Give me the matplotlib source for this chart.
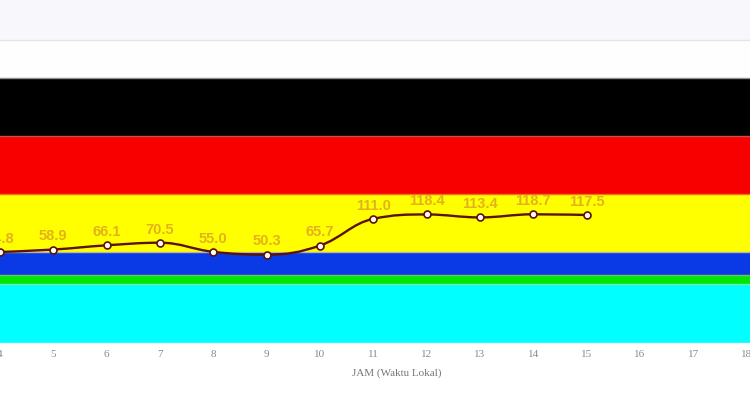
import matplotlib
matplotlib.use('Agg')
import matplotlib.pyplot as plt
from matplotlib.path import Path
from matplotlib.patches import PathPatch

# hourly PM2.5 values
hours = [4, 5, 6, 7, 8, 9, 10, 11, 12, 13, 14, 15]
pm25 = [54.8, 58.9, 66.1, 70.5, 55.0, 50.3, 65.7, 111.0, 118.4, 113.4, 118.7, 117.5]
tick_hours = list(range(4, 19))

# colour bands behind the line (bottom to top)
band_edges = [-100, 0, 15.5, 55.5, 152.5, 251.5, 350, 415, 482]
band_colors = ['#00ffff', '#00e600', '#0a3ae6', '#ffff00', '#f80000', '#000000', '#fefefe', '#f7f7fc']
edge_colors = ['#a0ffff', '#70f0b0', '#70c070', '#b8b8a0', '#f07020', '#c85050', '#909090', '#e4e4ea']


def spline_path(xs, ys, smoothing=1.5):
    # same control point rule as a highcharts "spline" series
    n = len(xs)
    left = [None] * n
    right = [None] * n
    denom = smoothing + 1
    for i in range(1, n - 1):
        px, py = xs[i], ys[i]
        lx, ly = xs[i - 1], ys[i - 1]
        nx, ny = xs[i + 1], ys[i + 1]
        lcx = (smoothing * px + lx) / denom
        lcy = (smoothing * py + ly) / denom
        rcx = (smoothing * px + nx) / denom
        rcy = (smoothing * py + ny) / denom
        if rcx != lcx:
            corr = (rcy - lcy) * (rcx - px) / (rcx - lcx) + py - rcy
            lcy += corr
            rcy += corr
        if lcy > ly and lcy > py:
            lcy = max(ly, py)
            rcy = 2 * py - lcy
        elif lcy < ly and lcy < py:
            lcy = min(ly, py)
            rcy = 2 * py - lcy
        if rcy > ny and rcy > py:
            rcy = max(ny, py)
            lcy = 2 * py - rcy
        elif rcy < ny and rcy < py:
            rcy = min(ny, py)
            lcy = 2 * py - rcy
        left[i] = (lcx, lcy)
        right[i] = (rcx, rcy)

    verts = [(xs[0], ys[0])]
    codes = [Path.MOVETO]
    for i in range(1, n):
        r = right[i - 1] or (xs[i - 1], ys[i - 1])
        l = left[i] or (xs[i], ys[i])
        verts += [r, l, (xs[i], ys[i])]
        codes += [Path.CURVE4] * 3
    return Path(verts, codes)


fig = plt.figure(figsize=(7.5, 4), dpi=100)
fig.patch.set_facecolor('white')
ax = fig.add_axes([0, 0.1418, 1, 0.8582])

for i in range(len(band_colors)):
    ax.axhspan(band_edges[i], band_edges[i + 1], color=band_colors[i], lw=0, zorder=0)
for i in range(len(edge_colors)):
    ax.axhline(band_edges[i], color=edge_colors[i], lw=1.0, zorder=1)

line_color = '#5c1206'
ax.add_patch(PathPatch(spline_path(hours, pm25), facecolor='none',
                       edgecolor=line_color, lw=1.7, zorder=3))
ax.plot(hours, pm25, ls='none', marker='o', ms=5, mfc='white', mec=line_color,
        mew=1.2, zorder=4)

for h, v in zip(hours, pm25):
    ax.annotate('%.1f' % v, (h, v), xytext=(0, 9.5), textcoords='offset points',
                ha='center', va='center', fontsize=10.5, fontweight='bold',
                family='Liberation Sans', color='#e2b21c', zorder=5)

ax.set_xlim(4, 4 + 750 / 53.33)
ax.set_ylim(-100, 482)
ax.set_xticks(tick_hours)
ax.set_xticklabels([str(t) for t in tick_hours], family='Liberation Serif',
                   fontsize=8, color='#8a8a8a')
ax.tick_params(axis='x', length=0, pad=5)
ax.set_yticks([])
for s in ax.spines.values():
    s.set_visible(False)

fig.text(396.7 / 750, 1 - 373.3 / 400, 'JAM (Waktu Lokal)', ha='center', va='center',
         family='Liberation Serif', fontsize=8, color='#777777')

fig.savefig('out.png', dpi=100)
